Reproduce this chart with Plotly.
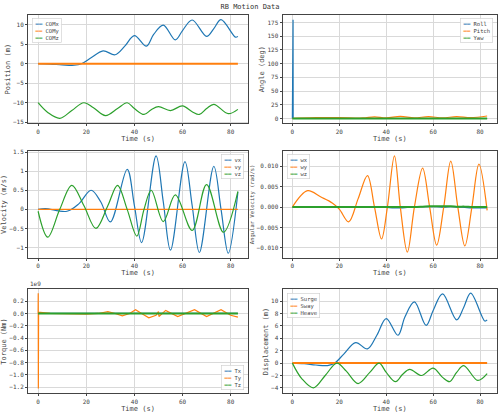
import plotly.graph_objects as go

# sample times and values
t_pos = [0, 5, 10, 15, 18, 22, 27, 32, 36, 40, 45, 48, 52, 57, 60, 64, 70, 73, 76, 82, 83]
com_x = [0, -0.1, -0.3, -0.4, 0, 1.5, 3.3, 2.3, 4.5, 7.2, 4.5, 7.5, 9.9, 6.1, 8.5, 11.2, 7.0, 9.0, 11.3, 6.8, 7.0]
t_z = [0, 4, 9, 14, 19, 23, 28, 33, 37, 40, 44, 47, 50, 55, 60, 64, 67, 70, 73, 79, 83]
com_z = [-10, -12.5, -14, -12, -10, -11.3, -13.3, -11.5, -10, -11.5, -13, -11.8, -11, -12, -10.8, -12.3, -13, -11.5, -10.4, -12.8, -11.7]
heave = [v + 10 for v in com_z]

t_ang = [0, 0.3, 0.35, 0.6, 10, 20, 30, 35, 40, 46, 52, 58, 64, 70, 76, 83]
roll = [0, 180, 0, 0, 0, 0, 0, 0.2, 0, 0.1, 0, 0.1, 0, 0.1, 0, 0]
pitch = [0, 0, 0, 0.5, 1.5, 1.8, 1.0, 3.0, 1.0, 4.0, 1.0, 3.5, 1.0, 3.5, 1.5, 4.5]
yaw = [0] * len(t_ang)

t_vx = [0, 3, 12, 17, 22, 26, 30, 37, 40, 43, 49, 52, 55, 61, 64, 67, 73, 76, 79, 83]
vx = [0, 0.02, -0.05, 0.15, 0.5, 0.2, -0.33, 1.05, 0.1, -0.87, 1.4, 0.2, -1.07, 1.25, 0.1, -1.13, 1.13, 0.0, -1.15, 0.45]
t_vz = [0, 4, 9, 14, 19, 24, 29, 33, 37, 41, 44, 47, 52, 57, 64, 70, 77, 83]
vz = [-0.05, -0.73, 0.0, 0.63, 0.1, -0.5, 0.1, 0.63, 0.0, -0.7, 0.0, 0.5, -0.32, 0.38, -0.55, 0.65, -0.6, 0.47]

t_w = [0, 6.5, 12, 17, 20, 24, 28, 32, 35, 38, 40.5, 43.5, 46, 49, 52, 55.5, 58.5, 61.5, 64.5, 67.5, 70.5, 73.5, 76.5, 79.5, 83]
wy = [0, 0.004, 0.0025, 0.001, -0.0005, -0.0036, 0.002, 0.0077, 0.0, -0.0078, 0.0, 0.0125, 0.0, -0.011, 0.0, 0.0095, 0.0, -0.0093, 0.0, 0.0112, 0.0, -0.0095, 0.0, 0.0105, -0.0008]
wx = [0, 0, 0, 0, 0, 0, 0, 0, 0, 0, -0.0001, -0.0002, -0.0002, -0.0001, 0, 0.0001, 0.0001, 0.0001, 0, 0.0001, 0, -0.0001, -0.0002, -0.0002, -0.0002]
wz = [0, 0, 0, 0, 0, 0, 0, 0, 0, 0, 0, 0, 0, 0, 0, 0.0001, 0.0002, 0.0002, 0.0002, 0.0002, 0.0001, 0.0001, 0, 0, 0]

t_tq = [0, 0.05, 0.1, 0.2, 5, 20, 25, 29, 32, 35, 38, 40.5, 43, 46, 49, 50, 50.2, 53, 58, 65, 70, 76, 80, 83]
ty = [0, 0.33, -1.22, 0.02, 0.0, -0.01, 0.0, 0.03, 0.0, -0.04, 0.0, 0.06, 0.0, -0.07, -0.03, 0.03, -0.05, 0.05, -0.05, 0.06, -0.05, 0.06, -0.03, -0.06]
tx = [0] * len(t_tq)
tz = [0] * len(t_tq)

blue, orange, green = "#1f77b4", "#ff7f0e", "#2ca02c"
font = dict(family="DejaVu Sans Mono", size=6, color="#444")

fig = go.Figure()

def add(t, y, name, color, n, width=1.2, spline=True):
    xa = "x" if n == 1 else f"x{n}"
    ya = "y" if n == 1 else f"y{n}"
    fig.add_trace(go.Scatter(x=t, y=y, name=name, mode="lines", xaxis=xa, yaxis=ya, showlegend=False,
                             line=dict(color=color, width=width, shape="spline" if spline else "linear")))

add(t_pos, com_x, "COMx", blue, 1)
add([0, 83], [0, 0], "COMy", orange, 1, width=2)
add(t_z, com_z, "COMz", green, 1)

add(t_ang, roll, "Roll", blue, 2, spline=False)
add(t_ang, pitch, "Pitch", orange, 2)
add(t_ang, yaw, "Yaw", green, 2, width=2)

add(t_vx, vx, "vx", blue, 3)
add([0, 83], [0, 0], "vy", orange, 3)
add(t_vz, vz, "vz", green, 3)

add(t_w, wx, "wx", blue, 4)
add(t_w, wy, "wy", orange, 4)
add(t_w, wz, "wz", green, 4, width=2)

add(t_tq, tx, "Tx", blue, 5, spline=False)
add(t_tq, ty, "Ty", orange, 5, spline=False)
add(t_tq, tz, "Tz", green, 5, width=2, spline=False)

add(t_pos, com_x, "Surge", blue, 6)
add([0, 83], [0, 0], "Sway", orange, 6, width=2)
add(t_z, heave, "Heave", green, 6)

names = [["COMx", "COMy", "COMz"], ["Roll", "Pitch", "Yaw"], ["vx", "vy", "vz"],
         ["wx", "wy", "wz"], ["Tx", "Ty", "Tz"], ["Surge", "Sway", "Heave"]]

xd = [[0.056, 0.496], [0.565, 0.994]]
yd = [[0.707, 0.971], [0.38, 0.64], [0.05, 0.303]]
ylabels = ["Position (m)", "Angle (deg)", "Velocity (m/s)", "Angular Velocity (rad/s)", "Torque (Nm)", "Displacement (m)"]
yranges = [[-15.3, 12.5], [-9, 189], [-1.27, 1.53], [-0.0124, 0.0137], [-1.3, 0.39], [-4.9, 11.9]]
ydticks = [5, 25, 0.5, 0.005, 0.2, 2]

layout = dict(
    width=500, height=416, margin=dict(l=0, r=0, t=0, b=0),
    paper_bgcolor="white", plot_bgcolor="white", font=font,
    title=dict(text="RB Motion Data", x=0.5, y=0.99, xanchor="center", font=dict(size=7, color="#333")),
)
legpos = [(0.02, 0.97, "left", "top"), (0.98, 0.97, "right", "top"), (0.98, 0.97, "right", "top"),
          (0.02, 0.97, "left", "top"), (0.98, 0.03, "right", "bottom"), (0.02, 0.97, "left", "top")]
annotations = []
for i in range(6):
    r, c = divmod(i, 2)
    sx = "" if i == 0 else str(i + 1)
    layout["xaxis" + sx] = dict(domain=xd[c], anchor="y" + sx, range=[-4.2, 87.2], dtick=20,
                                showgrid=True, gridcolor="#d9d9d9", showline=True, mirror=True,
                                linecolor="#444", linewidth=1, ticks="outside", ticklen=2, zeroline=False,
                                title=dict(text="Time (s)", standoff=1))
    layout["yaxis" + sx] = dict(domain=yd[r], anchor="x" + sx, range=yranges[i], dtick=ydticks[i],
                                showgrid=True, gridcolor="#d9d9d9", showline=True, mirror=True,
                                linecolor="#444", linewidth=1, ticks="outside", ticklen=2, zeroline=False,
                                title=dict(text=ylabels[i], standoff=1))
    lx, ly, xa, ya = legpos[i]
    text = "<br>".join(f"<span style='color:{col}'>━━</span> {n}"
                       for col, n in zip([blue, orange, green], names[i]))
    annotations.append(dict(
        text=text, x=xd[c][0] + lx * (xd[c][1] - xd[c][0]), y=yd[r][0] + ly * (yd[r][1] - yd[r][0]),
        xref="paper", yref="paper", xanchor=xa, yanchor=ya, align="left", showarrow=False,
        bgcolor="rgba(255,255,255,0.85)", bordercolor="#ccc", borderwidth=0.6, borderpad=2,
        font=dict(size=5.5, color="#444")))
annotations.append(dict(text="1e9", x=xd[0][0], y=yd[2][1], xref="paper", yref="paper",
                        xanchor="left", yanchor="bottom", showarrow=False, font=dict(size=6, color="#444")))
layout["yaxis4"]["tickformat"] = ".3f"
layout["yaxis4"]["title"]["font"] = dict(size=5.5)
layout["yaxis5"]["tickformat"] = ".1f"
layout["annotations"] = annotations
fig.update_layout(**layout)

fig.write_html("out.html", config={"displayModeBar": False},
               post_script="document.body.style.margin='0';")
